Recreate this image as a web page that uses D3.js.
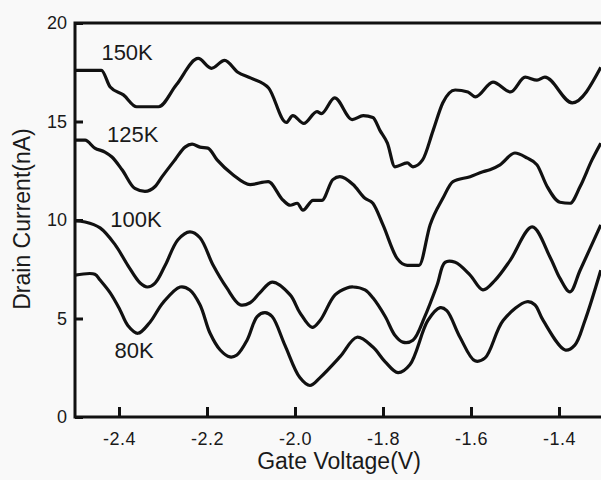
<!DOCTYPE html>
<html>
<head>
<meta charset="utf-8">
<script src="https://cdn.jsdelivr.net/npm/d3@7"></script>
<style>
  body { margin: 0; background: #f9f9f9; }
  svg { display: block; }
  text { font-family: "Liberation Sans", Arial, sans-serif; fill: #1a1a1a; }
</style>
</head>
<body>
<svg id="chart" width="601" height="480"></svg>
<script>
// gate voltage (V) / drain current (nA)
var v150 = [-2.50,-2.44,-2.42,-2.39,-2.36,-2.31,-2.27,-2.22,-2.19,-2.16,-2.13,-2.10,-2.06,-2.02,-2.005,-1.98,-1.95,-1.94,-1.91,-1.87,-1.845,-1.823,-1.807,-1.79,-1.773,-1.745,-1.732,-1.71,-1.686,-1.664,-1.636,-1.607,-1.59,-1.55,-1.51,-1.477,-1.45,-1.432,-1.37,-1.305];
var i150 = [17.6,17.6,16.75,16.35,15.75,15.75,16.85,18.2,17.7,18.1,17.5,17.2,16.7,14.95,15.3,14.9,15.5,15.4,16.2,15.1,15.3,15.2,14.55,13.9,12.7,12.9,12.7,13.05,14.55,15.95,16.6,16.5,16.25,17.0,16.5,17.25,17.1,17.25,15.95,17.75];

var v125 = [-2.50,-2.477,-2.455,-2.432,-2.416,-2.393,-2.364,-2.341,-2.318,-2.302,-2.273,-2.25,-2.234,-2.216,-2.198,-2.177,-2.141,-2.102,-2.061,-2.027,-2.011,-1.995,-1.982,-1.959,-1.939,-1.914,-1.898,-1.868,-1.841,-1.823,-1.80,-1.768,-1.745,-1.718,-1.693,-1.664,-1.641,-1.602,-1.573,-1.557,-1.534,-1.50,-1.473,-1.45,-1.427,-1.398,-1.375,-1.352,-1.325,-1.305];
var i125 = [14.05,14.05,13.65,13.45,13.2,12.55,11.6,11.45,11.7,12.2,13.05,13.7,13.85,13.7,13.65,13.05,12.3,11.8,11.95,11.0,10.75,10.85,10.5,11.0,11.0,12.05,12.2,11.8,11.1,10.85,9.75,8.05,7.7,7.7,9.75,11.1,11.95,12.2,12.45,12.55,12.8,13.4,13.15,12.8,11.7,10.9,10.85,11.7,13.05,13.9];

var v100 = [-2.50,-2.477,-2.443,-2.409,-2.38,-2.352,-2.336,-2.318,-2.295,-2.266,-2.239,-2.216,-2.186,-2.155,-2.125,-2.102,-2.08,-2.052,-2.011,-1.989,-1.961,-1.943,-1.909,-1.882,-1.868,-1.841,-1.823,-1.795,-1.773,-1.755,-1.732,-1.705,-1.677,-1.659,-1.636,-1.602,-1.573,-1.545,-1.511,-1.461,-1.42,-1.398,-1.375,-1.352,-1.305];
var i100 = [9.95,9.9,9.6,8.75,7.7,6.8,6.6,6.8,7.7,9.0,9.4,9.1,7.7,6.55,5.7,5.8,6.3,6.85,6.2,5.3,4.55,4.9,6.2,6.55,6.6,6.45,6.05,5.1,4.15,3.8,3.9,5.1,6.7,7.85,7.85,7.2,6.45,6.95,7.95,9.65,8.1,7.05,6.35,7.45,9.75];

var v80 = [-2.50,-2.455,-2.443,-2.42,-2.398,-2.38,-2.357,-2.33,-2.30,-2.261,-2.239,-2.216,-2.193,-2.17,-2.148,-2.132,-2.109,-2.086,-2.068,-2.052,-2.023,-1.989,-1.966,-1.943,-1.898,-1.859,-1.823,-1.795,-1.766,-1.739,-1.698,-1.67,-1.655,-1.625,-1.591,-1.568,-1.527,-1.473,-1.455,-1.436,-1.386,-1.364,-1.341,-1.305];
var i80 = [7.2,7.25,6.95,6.3,5.45,4.65,4.25,4.8,5.8,6.6,6.45,5.7,4.25,3.4,3.05,3.15,3.9,5.1,5.3,5.1,3.65,2.0,1.6,2.0,3.05,4.05,3.55,2.8,2.25,2.65,4.9,5.55,5.4,4.05,2.85,3.0,4.9,5.85,5.7,4.9,3.4,3.65,4.9,7.45];

var xTicks = [-2.4, -2.2, -2.0, -1.8, -1.6, -1.4];
var yTicks = [0, 5, 10, 15, 20];

var seriesNames = ["150K", "125K", "100K", "80K"];
var labelV = [-2.44, -2.427, -2.42, -2.41];
var labelI = [18.1, 13.96, 9.64, 3.0];

var svg = d3.select("#chart");
var plotL = 75, plotR = 603, plotT = 23, plotB = 417;

var x = d3.scaleLinear().domain([-2.5, -1.3]).range([plotL, plotR]);
var y = d3.scaleLinear().domain([0, 20]).range([plotB, plotT]);

function toPoints(vs, is) { return vs.map(function(v, k) { return [v, is[k]]; }); }

var series = [
  { pts: toPoints(v150, i150), curve: d3.curveMonotoneX },
  { pts: toPoints(v125, i125), curve: d3.curveMonotoneX },
  { pts: toPoints(v100, i100), curve: d3.curveCatmullRom },
  { pts: toPoints(v80, i80), curve: d3.curveCatmullRom }
];

svg.append("clipPath").attr("id", "clip")
  .append("rect").attr("x", plotL).attr("y", plotT).attr("width", plotR - plotL).attr("height", plotB - plotT);

var g = svg.append("g").attr("clip-path", "url(#clip)");
series.forEach(function(s) {
  var line = d3.line()
    .x(function(d) { return x(d[0]); })
    .y(function(d) { return y(d[1]); })
    .curve(s.curve);
  g.append("path")
    .attr("d", line(s.pts))
    .attr("fill", "none")
    .attr("stroke", "#111")
    .attr("stroke-width", 3.2)
    .attr("stroke-linejoin", "round");
});

// axes, ticks pointing inward
var xAxis = svg.append("g").attr("transform", "translate(0," + plotB + ")")
  .call(d3.axisBottom(x).tickValues(xTicks).tickSizeInner(-10).tickSizeOuter(0).tickPadding(15)
    .tickFormat(function(d) { return d.toFixed(1); }));
var yAxis = svg.append("g").attr("transform", "translate(" + plotL + ",0)")
  .call(d3.axisLeft(y).tickValues(yTicks).tickSizeInner(-8).tickSizeOuter(0).tickPadding(8));

[xAxis, yAxis].forEach(function(a) {
  a.select(".domain").remove();
  a.selectAll(".tick line").attr("stroke", "#111").attr("stroke-width", 3);
  a.selectAll(".tick text").style("font-size", "18px").attr("fill", "#1a1a1a");
});
xAxis.selectAll(".tick text").style("letter-spacing", "0.5px");

svg.append("rect")
  .attr("x", plotL).attr("y", plotT)
  .attr("width", plotR - plotL).attr("height", plotB - plotT)
  .attr("fill", "none").attr("stroke", "#111").attr("stroke-width", 3);

seriesNames.forEach(function(n, k) {
  svg.append("text")
    .attr("x", x(labelV[k])).attr("y", y(labelI[k]))
    .style("font-size", "22px")
    .text(n);
});

svg.append("text")
  .attr("x", 339).attr("y", 469)
  .attr("text-anchor", "middle")
  .style("font-size", "23px")
  .text("Gate Voltage(V)");

svg.append("text")
  .attr("transform", "translate(30," + 219 + ") rotate(-90)")
  .attr("text-anchor", "middle")
  .style("font-size", "23px")
  .text("Drain Current(nA)");
</script>
</body>
</html>
